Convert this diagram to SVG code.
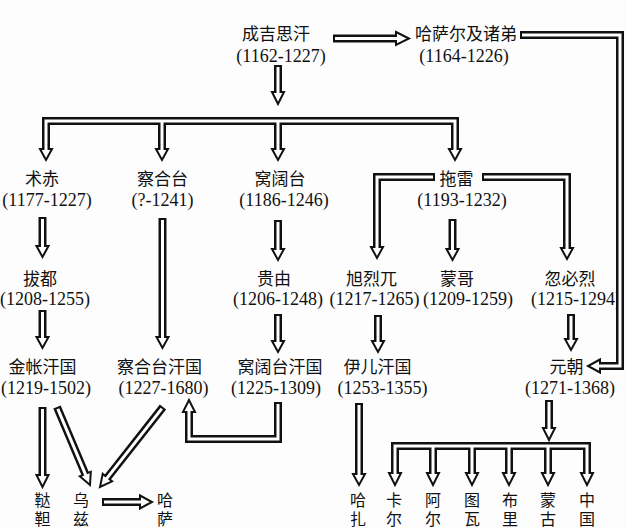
<svg xmlns="http://www.w3.org/2000/svg" width="626" height="528" viewBox="0 0 626 528">
<style>
.zh{font-family:"Noto Sans CJK SC","Noto Sans",sans-serif;font-size:17px;fill:#111;text-anchor:middle}
.zv{font-family:"Noto Sans CJK SC","Noto Sans",sans-serif;font-size:16px;fill:#111;text-anchor:start;writing-mode:vertical-rl;letter-spacing:3px}
.nm{font-family:"Liberation Serif","DejaVu Serif",serif;font-size:18px;fill:#111;text-anchor:middle}
.k{fill:none;stroke:#111;stroke-width:8;stroke-linejoin:miter}
.w{fill:none;stroke:#fff;stroke-width:3;stroke-linejoin:miter}
.h{fill:#fff;stroke:#111;stroke-width:2;stroke-linejoin:miter}
</style>
<rect width="626" height="528" fill="#fdfdfd"/>
<g id="n-chengjisihan"><text class="zh" x="276" y="39.5">成吉思汗</text><text class="nm" x="281" y="62">(1162-1227)</text></g>
<g id="n-hasaer"><text class="zh" x="466" y="39.5">哈萨尔及诸弟</text><text class="nm" x="464" y="62">(1164-1226)</text></g>
<g id="n-zhuchi"><text class="zh" x="42" y="185">术赤</text><text class="nm" x="47" y="206">(1177-1227)</text></g>
<g id="n-chahetai"><text class="zh" x="162.5" y="185">察合台</text><text class="nm" x="162.5" y="206">(?-1241)</text></g>
<g id="n-wokuotai"><text class="zh" x="280" y="185">窝阔台</text><text class="nm" x="284" y="206">(1186-1246)</text></g>
<g id="n-tuolei"><text class="zh" x="456.5" y="185">拖雷</text><text class="nm" x="462" y="206">(1193-1232)</text></g>
<g id="n-badu"><text class="zh" x="40" y="284.5">拔都</text><text class="nm" x="45" y="305">(1208-1255)</text></g>
<g id="n-guiyou"><text class="zh" x="274" y="284.5">贵由</text><text class="nm" x="278" y="305">(1206-1248)</text></g>
<g id="n-xuliewu"><text class="zh" x="371.5" y="284.5">旭烈兀</text><text class="nm" x="374.5" y="305">(1217-1265)</text></g>
<g id="n-mengge"><text class="zh" x="457" y="284.5">蒙哥</text><text class="nm" x="468" y="305">(1209-1259)</text></g>
<g id="n-hubilie"><text class="zh" x="570" y="284.5">忽必烈</text><text class="nm" x="576" y="305">(1215-1294)</text></g>
<g id="n-jinzhang"><text class="zh" x="42.5" y="372.5">金帐汗国</text><text class="nm" x="46" y="393.5">(1219-1502)</text></g>
<g id="n-chahetaihanguo"><text class="zh" x="159.5" y="372.5">察合台汗国</text><text class="nm" x="163.5" y="393.5">(1227-1680)</text></g>
<g id="n-wokuotaihanguo"><text class="zh" x="280" y="372.5">窝阔台汗国</text><text class="nm" x="276" y="393.5">(1225-1309)</text></g>
<g id="n-yier"><text class="zh" x="377.5" y="372.5">伊儿汗国</text><text class="nm" x="382.5" y="393.5">(1253-1355)</text></g>
<g id="n-yuanchao"><text class="zh" x="566.5" y="372.5">元朝</text><text class="nm" x="570" y="393.5">(1271-1368)</text></g>
<g id="n-dada"><text class="zv" x="42.5" y="492">鞑靼</text></g>
<g id="n-wuzi"><text class="zv" x="81" y="492">乌兹</text></g>
<g id="n-hasa"><text class="zv" x="165" y="492">哈萨</text></g>
<g id="n-haza"><text class="zv" x="358" y="492">哈扎</text></g>
<g id="n-kaer"><text class="zv" x="394" y="492">卡尔</text></g>
<g id="n-aer"><text class="zv" x="433" y="492">阿尔</text></g>
<g id="n-tuwa"><text class="zv" x="472" y="492">图瓦</text></g>
<g id="n-buli"><text class="zv" x="510" y="492">布里</text></g>
<g id="n-menggu"><text class="zv" x="548" y="492">蒙古</text></g>
<g id="n-zhongguo"><text class="zv" x="587" y="492">中国</text></g>
<g id="connectors">
<g id="conn-outline">
<path class="k" d="M333 38.5H396"/>
<path class="k" d="M278 65V92"/>
<path class="k" d="M46 149V121H455V149M162 121V149M278 121V149"/>
<path class="k" d="M435 177H377V247M482 177H567V248"/>
<path class="k" d="M452.5 219V249"/>
<path class="k" d="M42.5 217V246"/>
<path class="k" d="M42.5 310V337"/>
<path class="k" d="M162.5 218V337"/>
<path class="k" d="M278 220V249"/>
<path class="k" d="M278 314V341"/>
<path class="k" d="M378 315V341"/>
<path class="k" d="M571 314V339"/>
<path class="k" d="M520 35H620V366H600"/>
<path class="k" d="M42.5 407V475"/>
<path class="k" d="M57 407L85.3 474"/>
<path class="k" d="M163 407L107.4 477.6"/>
<path class="k" d="M278 402V439H189V412"/>
<path class="k" d="M102 502H140"/>
<path class="k" d="M359 403V474"/>
<path class="k" d="M549 400V428"/>
<path class="k" d="M395 473V446H587V473M433 446V473M472 446V473M509 446V473M548 446V473"/>
</g>
<g id="conn-heads">
<polygon class="h" points="396,32 409,38.5 396,45"/>
<polygon class="h" points="272,92 278,104 284,92"/>
<polygon class="h" points="40,149 46,160 52,149"/>
<polygon class="h" points="156,149 162,160 168,149"/>
<polygon class="h" points="272,149 278,160 284,149"/>
<polygon class="h" points="449,149 455,160 461,149"/>
<polygon class="h" points="371,247 377,258 383,247"/>
<polygon class="h" points="561,248 567,259 573,248"/>
<polygon class="h" points="446.5,249 452.5,260 458.5,249"/>
<polygon class="h" points="36.5,246 42.5,257 48.5,246"/>
<polygon class="h" points="36.5,337 42.5,348 48.5,337"/>
<polygon class="h" points="156.5,337 162.5,348 168.5,337"/>
<polygon class="h" points="272,249 278,260 284,249"/>
<polygon class="h" points="272,341 278,352 284,341"/>
<polygon class="h" points="372,341 378,352 384,341"/>
<polygon class="h" points="565,339 571,350 577,339"/>
<polygon class="h" points="600,359.5 588,366 600,372.5"/>
<polygon class="h" points="36.5,475 42.5,487 48.5,475"/>
<polygon class="h" points="79.8,476.3 90,485 90.8,471.7"/>
<polygon class="h" points="102.7,473.9 100,487 112.1,481.3"/>
<polygon class="h" points="183,412 189,400 195,412"/>
<polygon class="h" points="140,495.5 152,502 140,508.5"/>
<polygon class="h" points="353,474 359,485 365,474"/>
<polygon class="h" points="543,428 549,440 555,428"/>
<polygon class="h" points="389,473 395,485 401,473"/>
<polygon class="h" points="427,473 433,485 439,473"/>
<polygon class="h" points="466,473 472,485 478,473"/>
<polygon class="h" points="503,473 509,485 515,473"/>
<polygon class="h" points="542,473 548,485 554,473"/>
<polygon class="h" points="581,473 587,485 593,473"/>
</g>
<g id="conn-inner">
<path class="w" d="M335 38.5H398"/>
<path class="w" d="M278 67V94"/>
<path class="w" d="M46 151V121H455V151M162 121V151M278 121V151"/>
<path class="w" d="M433 177H377V249M484 177H567V250"/>
<path class="w" d="M452.5 221V251"/>
<path class="w" d="M42.5 219V248"/>
<path class="w" d="M42.5 312V339"/>
<path class="w" d="M162.5 220V339"/>
<path class="w" d="M278 222V251"/>
<path class="w" d="M278 316V343"/>
<path class="w" d="M378 317V343"/>
<path class="w" d="M571 316V341"/>
<path class="w" d="M522 35H620V366H598"/>
<path class="w" d="M42.5 409V477"/>
<path class="w" d="M57.8 408.8L86.1 475.9"/>
<path class="w" d="M161.8 408.6L106.2 479.1"/>
<path class="w" d="M278 404V439H189V410"/>
<path class="w" d="M104 502H142"/>
<path class="w" d="M359 405V476"/>
<path class="w" d="M549 402V430"/>
<path class="w" d="M395 475V446H587V475M433 446V475M472 446V475M509 446V475M548 446V475"/>
</g>
</g>
</svg>
